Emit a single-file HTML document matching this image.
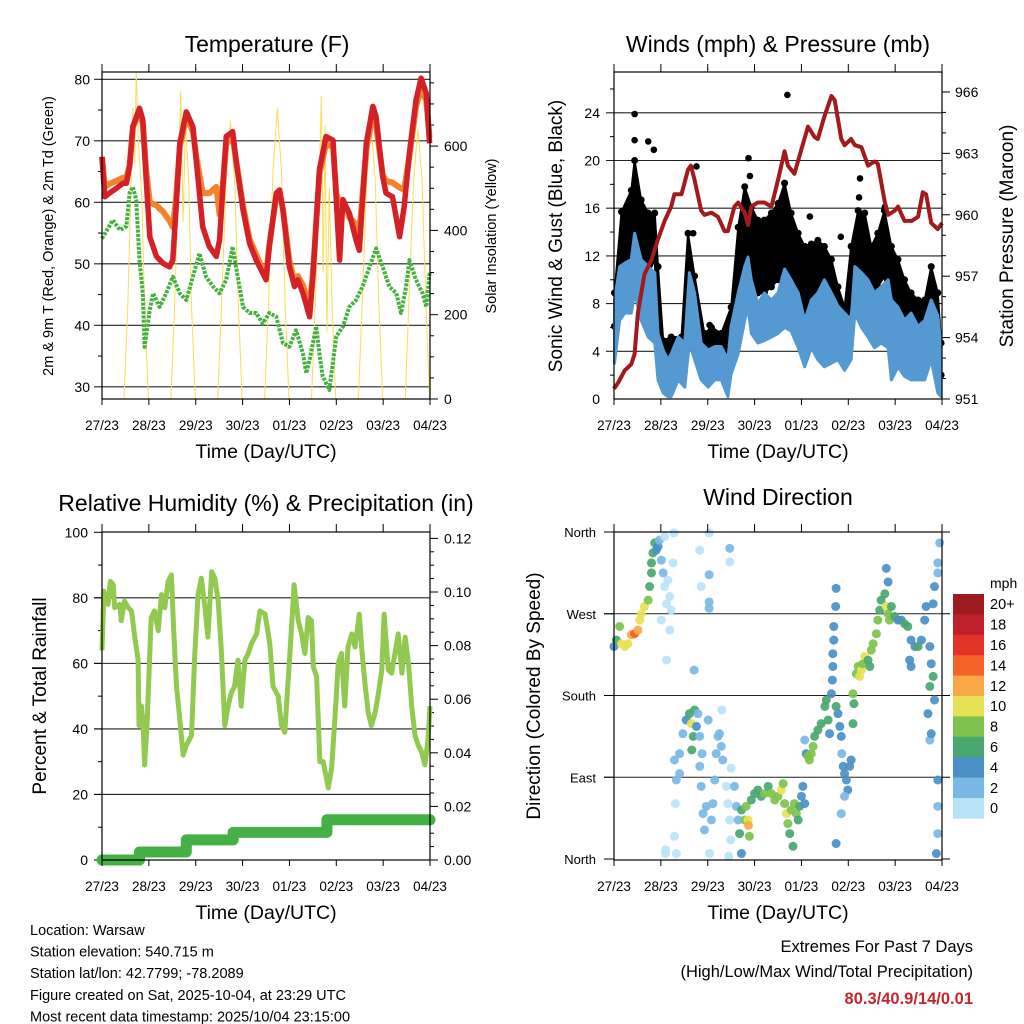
<!DOCTYPE html>
<html><head><meta charset="utf-8">
<style>
html,body{margin:0;padding:0;background:#fff;}
svg{display:block;font-family:"Liberation Sans",sans-serif;}
</style></head>
<body>
<svg id="c" width="1024" height="1024" viewBox="0 0 1024 1024">
<rect width="1024" height="1024" fill="#fff"/>
<g id="g1"></g>
<g id="g2"></g>
<g id="g3"></g>
<g id="g4"></g>
<g id="gt"></g>
</svg>
<script>
// ===== Data =====
const dayLabels = ["27/23","28/23","29/23","30/23","01/23","02/23","03/23","04/23"];
const tempTicks = [30,40,50,60,70,80];
const solarTicks = [0,200,400,600];
const windTicks = [0,4,8,12,16,20,24];
const presTicks = [951,954,957,960,963,966];
const rhTicks = [0,20,40,60,80,100];
const precipTicks = ["0.00","0.02","0.04","0.06","0.08","0.10","0.12"];
const dirLabels = ["North","East","South","West","North"];
const speedBins = ["0","2","4","6","8","10","12","14","16","18","20+"];
const speedColors = ["#b8e3f7","#7ab8e5","#4a90c6","#48a86f","#7ec34d","#e8e155","#f9a845","#f26227","#e03428","#c0202a","#9b1b1e"];

const tempT = [0,0.06,0.16,0.31,0.45,0.52,0.59,0.66,0.80,0.87,0.94,1.02,1.16,1.30,1.44,1.51,1.58,1.66,1.80,1.94,2.01,2.15,2.29,2.44,2.51,2.58,2.65,2.79,2.86,3.01,3.15,3.29,3.43,3.50,3.57,3.72,3.79,3.86,4.00,4.11,4.18,4.29,4.43,4.50,4.64,4.78,4.93,5.00,5.07,5.14,5.28,5.42,5.49,5.64,5.78,5.85,5.99,6.06,6.20,6.35,6.45,6.56,6.70,6.81,6.92,6.99];
const tempRed = [67.4,60.9,61.5,62.3,63.1,63.1,65.8,72.3,75.3,73.4,64.2,54.4,51.2,50.1,49.5,50.6,58.8,69.6,74.7,72.3,66.9,56.0,52.8,51.2,53.9,62.5,70.7,71.5,66.9,58.8,53.3,50.6,48.5,47.4,52.8,61.5,62.0,58.8,49.5,46.3,47.4,45.2,41.4,47.9,65.3,70.7,70.1,60.4,50.6,60.4,58.2,53.9,52.2,69.6,75.6,73.9,64.2,61.5,60.9,54.4,59.3,68.0,76.6,80.2,77.7,69.6];
const tempOrange = [67.4,62.5,63.0,63.5,64.0,64.0,66.0,72.3,74.5,72.8,65.5,60.0,59.5,58.5,57.0,56.0,60.5,69.0,73.8,71.5,67.5,61.5,61.5,62.5,58.0,63.0,69.5,70.5,66.9,59.5,54.0,51.5,49.0,48.0,53.0,61.0,61.5,59.0,50.5,47.0,48.0,46.5,43.0,48.5,64.5,69.5,69.0,61.5,59.8,60.4,57.5,56.5,55.0,68.5,74.5,72.5,64.5,63.5,63.2,62.4,62.0,67.5,75.5,78.5,76.5,70.5];
const dewT = [0,0.23,0.38,0.52,0.59,0.66,0.73,0.80,0.87,0.91,1.02,1.09,1.23,1.37,1.51,1.66,1.80,1.94,2.08,2.22,2.37,2.51,2.65,2.79,2.86,3.01,3.15,3.29,3.43,3.57,3.72,3.86,4.00,4.14,4.29,4.36,4.43,4.57,4.64,4.71,4.85,5.00,5.14,5.28,5.42,5.56,5.71,5.85,5.99,6.13,6.28,6.38,6.49,6.56,6.70,6.84,6.92,6.99];
const dewV = [54.1,57.1,55.5,56.1,61.5,62.5,60.4,50.6,45.2,36.5,42.5,45.2,43.0,45.2,47.9,45.2,44.1,47.9,51.7,47.9,46.3,45.2,47.4,52.8,49.5,43.0,42.0,42.0,40.3,42.0,41.4,37.1,36.5,39.2,35.4,32.2,34.4,39.8,35.4,31.7,29.5,38.2,39.8,43.0,44.1,46.3,49.5,52.5,49.5,46.3,45.2,42.0,46.3,50.6,47.4,45.2,43.0,48.5];
const solarT = [0.47,0.55,0.62,0.66,0.70,0.73,0.78,0.85,0.91,0.99, 1.47,1.55,1.63,1.68,1.73,1.78,1.85,1.91,1.99, 2.47,2.55,2.65,2.74,2.83,2.91,2.99, 3.47,3.55,3.65,3.74,3.83,3.91,3.99, 4.47,4.55,4.63,4.68,4.72,4.76,4.80,4.85,4.91,4.99, 5.47,5.55,5.65,5.74,5.83,5.91,5.99, 6.47,6.55,6.65,6.74,6.83,6.91,6.99];
const solarW = [0,220,520,690,560,776,600,480,220,0, 0,220,500,730,420,650,520,220,0, 0,220,520,660,520,220,0, 0,220,540,690,540,220,0, 0,220,480,720,300,650,160,500,220,0, 0,220,520,650,520,220,0, 0,230,520,640,520,230,0];

const windT = [0.01,0.12,0.23,0.37,0.44,0.58,0.73,0.87,0.94,1.05,1.15,1.22,1.37,1.51,1.61,1.72,1.86,2.01,2.15,2.29,2.43,2.50,2.65,2.79,2.86,2.93,3.07,3.21,3.36,3.50,3.64,3.78,3.93,4.07,4.21,4.35,4.49,4.64,4.78,4.92,5.06,5.14,5.28,5.42,5.56,5.70,5.85,5.92,6.06,6.20,6.34,6.49,6.63,6.77,6.91,6.98];
const windHi = [8.3,11.1,11.4,11.7,13.9,11.7,11.1,10.6,5.5,4.1,3.3,3.8,5.2,4.7,10.6,8.9,4.7,4.1,4.4,4.4,3.3,6.1,8.9,11.1,11.9,10.0,8.0,8.9,8.3,8.9,10.9,10.0,8.9,6.6,8.3,8.9,10.0,8.9,7.8,7.2,6.6,11.1,10.6,10.0,8.9,9.4,10.0,8.3,7.7,6.6,7.2,6.1,6.6,8.3,7.0,4.4];
const windLo = [3.0,6.6,7.2,7.2,8.9,6.6,5.2,4.7,1.6,0.5,0.2,0.2,1.6,1.0,4.7,3.3,1.6,1.0,1.6,1.6,0.2,2.1,3.8,6.6,7.7,5.5,4.7,4.9,5.2,5.5,6.0,5.7,4.3,2.7,4.3,3.3,2.7,3.0,3.3,2.4,3.3,7.2,6.0,5.2,4.3,4.7,4.3,1.6,2.7,1.9,1.6,1.6,1.6,3.3,0.5,0.2];
const gustT = [0.01,0.16,0.37,0.44,0.58,0.73,0.87,0.94,1.05,1.22,1.44,1.58,1.72,1.93,2.08,2.29,2.50,2.65,2.79,2.93,3.07,3.21,3.36,3.50,3.64,3.78,3.93,4.07,4.21,4.35,4.49,4.64,4.78,4.92,5.06,5.21,5.35,5.49,5.63,5.77,5.92,6.06,6.20,6.34,6.49,6.63,6.77,6.91,6.98];
const gustHi = [8.9,15.7,17.5,20.0,16.7,15.6,15.6,11.1,4.9,5.2,5.2,13.9,10.3,5.5,6.0,5.5,7.7,14.4,17.8,16.1,15.0,15.0,15.6,16.4,18.1,15.6,13.9,12.8,13.0,13.3,12.8,11.7,9.4,7.7,12.8,15.8,15.6,12.8,13.9,15.8,12.8,11.7,10.0,8.9,8.3,8.3,11.1,8.9,4.7];
const gustLo = [6.1,8.9,10.5,11.5,11.2,10.5,11.7,4.3,2.2,2.4,2.4,6.0,4.7,3.3,3.3,3.3,3.8,7.4,11.7,8.9,8.9,8.9,9.4,10.0,11.1,10.0,7.2,7.2,7.7,7.2,7.2,6.1,5.5,4.9,8.3,10.5,10.3,8.3,9.4,10.3,6.1,6.6,6.1,6.1,6.1,6.1,6.6,4.4,2.0];
const gustOutT = [0.44,0.44,0.73,0.85,3.70,1.76,2.87,2.90,4.18,4.84,5.25,5.23,2.04,1.69,5.78];
const gustOutV = [23.9,21.7,21.6,20.9,25.5,19.5,20.2,18.7,15.3,13.6,18.5,16.9,6.2,13.9,16.1];
const presT = [0,0.09,0.23,0.37,0.44,0.51,0.65,0.80,0.94,1.08,1.22,1.29,1.44,1.58,1.64,1.72,1.86,1.93,2.08,2.22,2.36,2.43,2.57,2.65,2.79,2.86,2.93,3.07,3.21,3.36,3.50,3.64,3.71,3.85,4.00,4.14,4.28,4.35,4.49,4.64,4.71,4.85,4.92,5.06,5.14,5.28,5.42,5.56,5.63,5.78,5.85,5.99,6.06,6.20,6.35,6.49,6.59,6.66,6.77,6.91,7.0];
const presV = [951.5,951.8,952.4,952.7,953.2,955.2,957.1,957.8,958.8,959.7,960.4,961.0,961.0,962.2,962.4,961.7,960.2,960.0,960.1,959.9,959.2,959.2,960.4,960.6,960.1,959.5,960.4,960.6,960.6,960.4,961.7,963.1,962.4,962.0,963.2,964.3,963.8,963.7,964.8,965.8,965.6,963.7,963.4,963.7,963.4,963.3,962.4,962.6,962.5,960.6,960.0,960.2,960.4,959.7,959.7,959.9,961.1,961.0,959.6,959.3,959.6];

const rhT = [0,0.04,0.13,0.18,0.24,0.27,0.38,0.41,0.48,0.56,0.63,0.70,0.77,0.79,0.84,0.88,0.91,0.96,1.02,1.05,1.12,1.20,1.27,1.34,1.41,1.48,1.53,1.59,1.66,1.73,1.80,1.91,1.98,2.05,2.12,2.19,2.26,2.34,2.41,2.48,2.55,2.62,2.69,2.76,2.83,2.90,2.97,3.05,3.12,3.19,3.30,3.37,3.48,3.58,3.65,3.76,3.83,3.90,3.95,4.01,4.10,4.19,4.26,4.33,4.40,4.47,4.51,4.58,4.65,4.72,4.83,4.90,4.97,5.04,5.11,5.18,5.25,5.33,5.40,5.49,5.54,5.61,5.68,5.75,5.83,5.90,5.97,6.02,6.11,6.18,6.25,6.32,6.40,6.47,6.54,6.61,6.68,6.75,6.82,6.89,6.96,7.0];
const rhV = [64,82,78,85,84,77,78,73,79,77,76,68,61,41,47,41,29,41,63,74,76,70,81,77,85,87,70,53,43,32,35,38,63,81,86,78,68,88,86,79,63,41,47,51,53,61,47,61,63,66,69,76,75,66,53,50,41,39,50,63,84,73,69,63,74,73,59,56,30,30,22,28,43,60,63,47,65,69,65,75,65,54,45,41,45,51,58,75,58,57,63,69,57,68,60,47,38,35,33,29,37,47];
const precipT = [0,0.8,0.8,1.8,1.8,2.8,2.8,4.8,4.8,7.0];
const precipV = [0,0,0.003,0.003,0.0075,0.0075,0.0103,0.0103,0.015,0.015];

const dirT = [0.00,0.05,0.12,0.16,0.23,0.30,0.37,0.44,0.51,0.55,0.58,0.65,0.73,0.76,0.80,0.80,0.83,0.87,0.90,0.94,0.97,1.01,1.05,1.08,1.12,1.15,1.19,1.22,1.01,1.19,1.12,1.08,1.28,1.26,1.86,1.83,2.03,2.03,2.03,2.03,2.47,2.47,1.71,1.29,1.33,1.31,1.29,1.33,1.40,1.40,1.47,1.54,1.61,1.65,1.69,1.72,1.66,1.76,1.79,1.83,1.86,1.88,1.90,1.93,1.83,1.97,2.01,2.04,1.10,1.10,2.08,2.11,2.15,2.18,2.22,2.25,2.29,2.32,2.30,2.50,2.40,2.43,2.47,2.49,2.45,2.57,2.61,2.65,2.68,2.72,2.72,2.79,2.82,2.86,2.87,2.89,2.93,3.00,3.07,3.14,3.21,3.29,3.36,3.43,3.50,3.57,3.61,3.64,3.68,3.71,3.75,3.82,3.78,3.85,3.89,3.93,3.96,4.00,4.03,4.07,4.07,4.10,4.14,4.17,4.21,4.25,4.28,4.35,4.42,4.50,4.53,4.57,4.60,4.64,4.66,4.67,4.67,4.69,4.69,4.73,4.74,4.74,4.78,4.82,4.85,4.86,4.89,4.92,4.96,4.99,5.03,5.06,5.10,5.12,5.10,5.17,5.21,5.24,5.28,5.31,5.35,5.42,5.46,5.49,5.53,5.60,5.63,5.67,5.70,5.78,5.81,5.85,5.88,5.92,5.99,6.06,6.13,6.20,6.27,6.34,6.42,6.49,6.56,6.63,6.66,6.74,6.77,6.81,6.74,6.84,6.70,6.74,6.77,6.81,6.84,6.91,6.95,6.91,6.91,6.91,6.91,6.88,5.81,5.85,4.74,4.85,4.92,6.31,6.34];
const dirDeg = [234,241,256,237,234,237,247,248,252,263,270,278,285,300,315,326,337,348,340,344,351,329,315,300,281,307,289,274,263,252,219,355,359,326,300,340,359,313,283,276,342,327,208,109,87,61,25,6,116,94,138,153,160,149,135,164,120,146,160,102,80,116,50,32,135,58,153,6,10,6,43,61,87,116,135,138,124,109,164,100,80,61,43,21,3,80,58,43,28,6,54,43,58,43,37,25,65,72,76,69,72,80,72,65,69,76,83,61,50,39,28,14,54,61,50,43,58,69,80,61,131,116,113,109,116,124,135,142,149,168,175,153,138,182,197,212,226,241,256,278,298,168,160,146,135,116,102,94,87,76,102,109,149,171,182,204,212,201,208,215,223,219,212,230,237,248,263,274,285,292,278,270,263,278,267,263,263,259,256,241,234,234,241,263,278,234,215,201,190,175,160,131,138,281,300,326,348,315,87,58,28,6,320,305,17,50,69,219,212];
const dirSpd = [4,6,9,10,10,10,13,14,12,10,10,10,9,7,7,6,6,6,4,4,2,2,2,1,1,1,1,1,1,1,1,1,0,0,0,1,1,2,2,2,2,0,3,2,2,1,1,1,2,2,2,5,7,10,7,7,6,4,3,2,2,2,2,2,2,2,2,1,1,0,2,2,2,3,3,3,3,2,0,1,1,1,1,1,1,3,3,3,6,4,7,8,8,10,13,8,7,6,7,7,8,6,8,8,9,10,8,9,10,8,7,6,8,8,8,7,7,4,4,4,2,4,8,9,8,8,7,6,6,7,7,6,5,4,4,4,4,5,4,4,4,6,4,5,4,3,4,4,4,4,4,4,6,6,8,9,9,10,11,8,10,6,6,8,8,9,8,7,6,7,10,9,8,7,6,5,5,6,6,4,5,6,4,4,4,4,4,7,6,4,4,3,4,5,4,2,2,2,4,2,2,4,4,4,4,2,2,4,4];

// ===== helpers =====
const NS = "http://www.w3.org/2000/svg";
function mk(parent, tag, attrs, txt){
  const e = document.createElementNS(NS, tag);
  for (const k in attrs) e.setAttribute(k, attrs[k]);
  if (txt !== undefined) e.textContent = txt;
  parent.appendChild(e);
  return e;
}
function pts(xs, ys, fx, fy){ return xs.map((t,i)=>fx(t).toFixed(1)+","+fy(ys[i]).toFixed(1)).join(" "); }

const xL = t => 102 + t*46.86;
const xR = t => 614 + t*46.86;
const yTemp = v => 79.3 + (80 - v)*6.15;
const ySol = w => 399 - w*0.4215;
const yWind = v => 399 - v*11.925;
const yPres = p => 399 - (p - 951)*20.47;
const yRH = v => 860 - v*3.277;
const yPr = v => 860 - v*2680;
const yDir = d => 859 - d*0.9083;

function frame(g, x0, y0, x1, y1, name){
  let r = mk(g, "rect", {x:x0, y:y0, width:x1-x0, height:y1-y0, fill:"none", stroke:"#000", "stroke-width":1.2});
  
  
}
function xAxis(g, fx, yTop, yBot){
  dayLabels.forEach((lab,i)=>{
    const x = fx(i);
    let t1 = mk(g,"line",{x1:x,y1:yBot,x2:x,y2:yBot+6,stroke:"#000","stroke-width":1});
    
    
    let t2 = mk(g,"line",{x1:x,y1:yTop,x2:x,y2:yTop-8,stroke:"#000","stroke-width":1});
    
    
    let tx = mk(g,"text",{x:x,y:yBot+31,"font-size":13.5,"text-anchor":"middle",fill:"#000"},lab);
    
    
  });
  let tt = mk(g,"text",{x:(fx(0)+fx(7))/2,y:yBot+59,"font-size":19.5,"text-anchor":"middle"},"Time (Day/UTC)");
  
  
}
function title(g, x, y, s){
  let t = mk(g,"text",{x:x,y:y,"font-size":23,"text-anchor":"middle"},s);
  
  
}
function vlabel(g, x, y, s, size){
  let t = mk(g,"text",{x:x,y:y,"font-size":size,"text-anchor":"middle",transform:`rotate(-90 ${x} ${y})`},s);
  
  
}

// ===== Panel 1: Temperature =====
(function(){
  const g = document.getElementById("g1");
  title(g, 267, 52, "Temperature (F)");
  tempTicks.forEach(v=>{
    const y = yTemp(v);
    let l = mk(g,"line",{x1:94,y1:y,x2:430,y2:y,stroke:"#222","stroke-width":1.1});
    
    
    let tx = mk(g,"text",{x:90,y:y+5,"font-size":14,"text-anchor":"end"},String(v));
    
    
    const y5 = yTemp(v+5);
    if (y5 > 72) {
      let m = mk(g,"line",{x1:98,y1:y5,x2:102,y2:y5,stroke:"#000"});
      
      
    }
  });
  solarTicks.forEach(w=>{
    const y = ySol(w);
    let tk = mk(g,"line",{x1:430,y1:y,x2:438,y2:y,stroke:"#000"});
    
    
    let tx = mk(g,"text",{x:444,y:y+5,"font-size":14},String(w));
    
    
    for (let k=1;k<4;k++){ const ym = ySol(w+k*50); if (ym>72){
      let m = mk(g,"line",{x1:430,y1:ym,x2:434,y2:ym,stroke:"#000"});
      
      }}
  });
  let sol = mk(g,"polyline",{points:pts(solarT,solarW,xL,ySol),fill:"none",stroke:"#f7de55","stroke-width":1});
  
  
  let dew = mk(g,"polyline",{points:pts(dewT,dewV,xL,yTemp),fill:"none",stroke:"#46b041","stroke-width":4,"stroke-dasharray":"3 1.3","stroke-linejoin":"round"});
  
  
  let or = mk(g,"polyline",{points:pts(tempT,tempOrange,xL,yTemp),fill:"none",stroke:"#f2832b","stroke-width":6,"stroke-linejoin":"round"});
  
  
  let rd = mk(g,"polyline",{points:pts(tempT,tempRed,xL,yTemp),fill:"none",stroke:"#d42127","stroke-width":5.5,"stroke-linejoin":"round"});
  
  
  frame(g,102,72,430,399,"temperature-plot-frame");
  xAxis(g,xL,72,399);
  vlabel(g,53,236,"2m & 9m T (Red, Orange) & 2m Td (Green)",14.5);
  vlabel(g,496,236,"Solar Insolation (Yellow)",14.5);
})();

// ===== Panel 2: Winds =====
(function(){
  const g = document.getElementById("g2");
  title(g, 778, 52, "Winds (mph) & Pressure (mb)");
  windTicks.forEach(v=>{
    const y = yWind(v);
    if (v>0){
      let l = mk(g,"line",{x1:606,y1:y,x2:942,y2:y,stroke:"#222","stroke-width":1.1});
      
      
    }
    let tx = mk(g,"text",{x:600,y:y+5,"font-size":14,"text-anchor":"end"},String(v));
    
    
    const y2 = yWind(v+2);
    if (y2>72){
      let m = mk(g,"line",{x1:610,y1:y2,x2:614,y2:y2,stroke:"#000"});
      
      
    }
  });
  presTicks.forEach(p=>{
    const y = yPres(p);
    let tk = mk(g,"line",{x1:942,y1:y,x2:950,y2:y,stroke:"#000"});
    
    
    let tx = mk(g,"text",{x:955,y:y+5,"font-size":14},String(p));
    
    
    for (let k=1;k<3;k++){ const ym = yPres(p+k); if (ym>72){
      let m = mk(g,"line",{x1:942,y1:ym,x2:946,y2:ym,stroke:"#000"});
      
      }}
  });
  const gp = gustT.map((t,i)=>xR(t).toFixed(1)+","+yWind(gustHi[i]).toFixed(1)).concat(gustT.map((t,i)=>xR(t).toFixed(1)+","+yWind(gustLo[i]).toFixed(1)).reverse()).join(" ");
  let gb = mk(g,"polygon",{points:gp,fill:"#000",stroke:"#000","stroke-width":2,"stroke-linejoin":"round"});
  
  
  gustT.forEach((t,i)=>{
    let c1 = mk(g,"circle",{cx:xR(t),cy:yWind(gustHi[i]),r:3.5,fill:"#000"});
    
    
    let c2 = mk(g,"circle",{cx:xR(t),cy:yWind(gustLo[i]),r:3.5,fill:"#000"});
    
    
  });
  gustOutT.forEach((t,i)=>{
    let c = mk(g,"circle",{cx:xR(t),cy:yWind(gustOutV[i]),r:3.3,fill:"#000"});
    
    
  });
  const wp = windT.map((t,i)=>xR(t).toFixed(1)+","+yWind(windHi[i]).toFixed(1)).concat(windT.map((t,i)=>xR(t).toFixed(1)+","+yWind(windLo[i]).toFixed(1)).reverse()).join(" ");
  let wb = mk(g,"polygon",{points:wp,fill:"#5499d2",stroke:"#5499d2","stroke-width":3,"stroke-linejoin":"round"});
  
  
  let pl = mk(g,"polyline",{points:pts(presT,presV,xR,yPres),fill:"none",stroke:"#a11a1d","stroke-width":4,"stroke-linejoin":"round"});
  
  
  frame(g,614,72,942,399,"winds-plot-frame");
  xAxis(g,xR,72,399);
  vlabel(g,562,236,"Sonic Wind & Gust (Blue, Black)",19);
  vlabel(g,1013,236,"Station Pressure (Maroon)",19);
})();

// ===== Panel 3: RH & precip =====
(function(){
  const g = document.getElementById("g3");
  title(g, 266, 511, "Relative Humidity (%) & Precipitation (in)");
  rhTicks.forEach(v=>{
    const y = yRH(v);
    if (v>0 && v<100){
      let l = mk(g,"line",{x1:94,y1:y,x2:430,y2:y,stroke:"#222","stroke-width":1.1});
      
      
    }
    let tk = mk(g,"line",{x1:94,y1:y,x2:102,y2:y,stroke:"#000"});
    
    
    let tx = mk(g,"text",{x:88,y:y+5,"font-size":14,"text-anchor":"end"},String(v));
    
    
    const y2 = yRH(v+10);
    if (v<100){
      let m = mk(g,"line",{x1:98,y1:y2,x2:102,y2:y2,stroke:"#000"});
      
      
    }
  });
  precipTicks.forEach(s=>{
    const v = parseFloat(s), y = yPr(v);
    let tk = mk(g,"line",{x1:430,y1:y,x2:438,y2:y,stroke:"#000"});
    
    
    let tx = mk(g,"text",{x:444,y:y+5,"font-size":14},s);
    
    
    for (let k=1;k<4;k++){ const ym = yPr(v+k*0.005); if (ym>532){
      let m = mk(g,"line",{x1:430,y1:ym,x2:434,y2:ym,stroke:"#000"});
      
      }}
  });
  let rh = mk(g,"polyline",{points:pts(rhT,rhV,xL,yRH),fill:"none",stroke:"#92c950","stroke-width":5,"stroke-linejoin":"round"});
  
  
  let pr = mk(g,"polyline",{points:pts(precipT,precipV,xL,yPr),fill:"none",stroke:"#44b045","stroke-width":11,"stroke-linejoin":"round","stroke-linecap":"round"});
  
  
  frame(g,102,532,430,860,"humidity-plot-frame");
  xAxis(g,xL,532,860);
  vlabel(g,46,696,"Percent & Total Rainfall",19);
})();

// ===== Panel 4: wind direction =====
(function(){
  const g = document.getElementById("g4");
  title(g, 778, 505, "Wind Direction");
  dirLabels.forEach((s,i)=>{
    const y = yDir(i*90);
    if (i>0 && i<4){
      let l = mk(g,"line",{x1:604,y1:y,x2:942,y2:y,stroke:"#222","stroke-width":1.1});
      
      
    }
    let tk = mk(g,"line",{x1:604,y1:y,x2:614,y2:y,stroke:"#000"});
    
    
    let tr = mk(g,"line",{x1:942,y1:y,x2:950,y2:y,stroke:"#000"});
    
    
    let tx = mk(g,"text",{x:596,y:y+5,"font-size":13,"text-anchor":"end"},s);
    
    
  });
  dirT.forEach((t,i)=>{
    const idx = Math.min(10, Math.floor(dirSpd[i]/2));
    let c = mk(g,"circle",{cx:xR(t),cy:yDir(dirDeg[i]),r:4.5,fill:speedColors[idx],"fill-opacity":0.92});
    
    
  });
  frame(g,614,532,942,860,"direction-plot-frame");
  xAxis(g,xR,532,860);
  vlabel(g,540,696,"Direction (Colored By Speed)",19);
  let mph = mk(g,"text",{x:990,y:588,"font-size":14},"mph");
  
  
  const bh = 20.4;
  for (let k=0;k<11;k++){
    const j = 10-k;
    const y = 594 + k*bh;
    let r = mk(g,"rect",{x:953,y:y,width:31,height:bh+0.3,fill:speedColors[j]});
    
    
    let tx = mk(g,"text",{x:990,y:y+bh/2+5,"font-size":14.5},speedBins[j]);
    
    
  }
})();

// ===== Text block =====
(function(){
  const g = document.getElementById("gt");
  const lines = ["Location: Warsaw","Station elevation: 540.715 m","Station lat/lon: 42.7799; -78.2089","Figure created on Sat, 2025-10-04, at 23:29 UTC","Most recent data timestamp: 2025/10/04 23:15:00"];
  lines.forEach((s,i)=>{
    let t = mk(g,"text",{x:30,y:935+i*21.6,"font-size":14.5},s);
    
    
  });
  let e1 = mk(g,"text",{x:973,y:952,"font-size":16.5,"text-anchor":"end"},"Extremes For Past 7 Days");
  
  
  let e2 = mk(g,"text",{x:973,y:977,"font-size":16.5,"text-anchor":"end"},"(High/Low/Max Wind/Total Precipitation)");
  
  
  let e3 = mk(g,"text",{x:973,y:1004,"font-size":16.5,"text-anchor":"end","font-weight":"bold",fill:"#c4262c"},"80.3/40.9/14/0.01");
  
  
})();
</script>
</body></html>
